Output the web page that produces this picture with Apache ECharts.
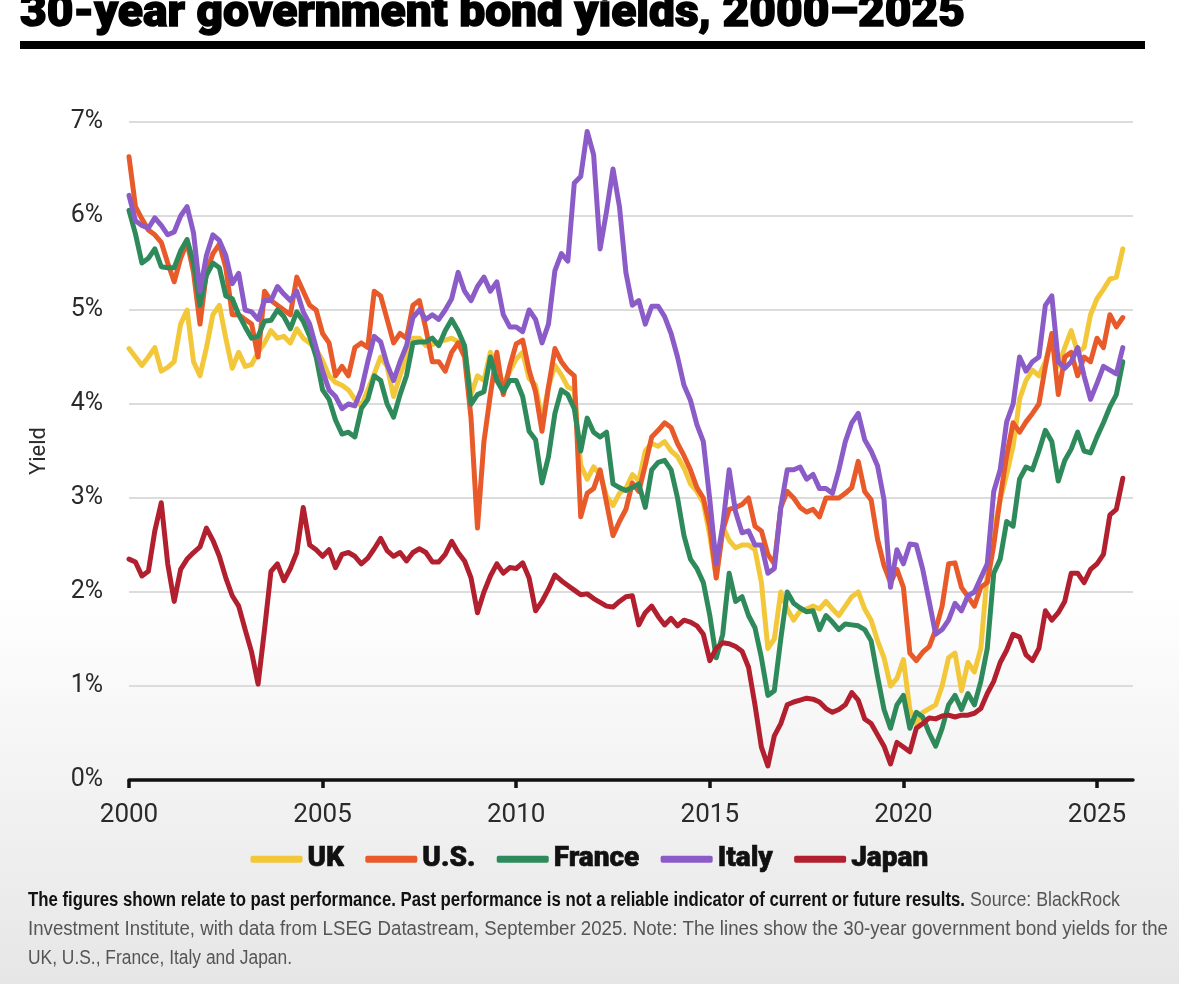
<!DOCTYPE html>
<html>
<head>
<meta charset="utf-8">
<script src="https://cdn.jsdelivr.net/npm/echarts@6/dist/echarts.min.js"></script>
<style>
html, body { margin: 0; padding: 0; }
#main { width: 1179px; height: 984px; }
</style>
</head>
<body>
<div id="main"></div>
<script>
// bi-monthly observations, Jan 2000 .. Sep 2025 (year as decimal)
const periods = [];
for (let y = 2000; y <= 2025; y++) {
  for (let m = 0; m < 12; m += 2) {
    if (y === 2025 && m > 8) break;
    periods.push(y + m / 12);
  }
}

const xTicks = [2000, 2005, 2010, 2015, 2020, 2025];
const yTicks = [0, 1, 2, 3, 4, 5, 6, 7];

// 30-year yields, %
const uk = [
  4.59, 4.5, 4.41, 4.5, 4.6, 4.35, 4.39, 4.45, 4.85, 5.0,
  4.45, 4.3, 4.6, 4.95, 5.05, 4.7, 4.38, 4.55, 4.4, 4.42,
  4.55, 4.65, 4.78, 4.7, 4.72, 4.65, 4.8, 4.7, 4.65, 4.58,
  4.46, 4.3, 4.23, 4.2, 4.15, 4.05, 3.98, 4.15, 4.32, 4.5,
  4.4, 4.08, 4.3, 4.5, 4.7, 4.7, 4.62, 4.63, 4.66, 4.68,
  4.7, 4.66, 4.6, 4.1, 4.3, 4.25, 4.55, 4.4, 4.2, 4.35,
  4.48, 4.55, 4.27, 4.2, 3.82, 4.18, 4.41, 4.31, 4.18, 4.15,
  3.35, 3.2, 3.33, 3.25, 3.02, 2.92, 3.05, 3.1, 3.25, 3.18,
  3.5, 3.58, 3.55, 3.6, 3.5, 3.44, 3.32, 3.15, 3.07, 2.95,
  2.6, 2.15, 2.7, 2.55, 2.47, 2.5, 2.5, 2.45, 2.1, 1.4,
  1.5, 2.0, 1.82, 1.7, 1.8, 1.82, 1.85, 1.82, 1.9, 1.82,
  1.75, 1.85, 1.95, 2.0, 1.82, 1.7, 1.48, 1.3, 1.0, 1.08,
  1.28, 0.75, 0.6, 0.72, 0.76, 0.8, 1.0, 1.3, 1.35, 0.95,
  1.25, 1.15, 1.4, 2.2, 2.65, 2.98, 3.25, 3.55, 4.05, 4.25,
  4.36, 4.3, 4.45, 4.7, 4.4, 4.6, 4.78, 4.55, 4.6, 4.95,
  5.12, 5.22, 5.33, 5.35, 5.65
];
const us = [
  6.63, 6.1, 5.97, 5.85, 5.8, 5.72, 5.5, 5.3, 5.55, 5.72,
  5.4, 4.85, 5.4, 5.6, 5.7, 5.45, 4.95, 4.95, 4.9, 4.85,
  4.5, 5.2, 5.1, 5.05, 5.0, 4.95, 5.35, 5.2, 5.05, 5.0,
  4.75, 4.65, 4.3, 4.4, 4.3, 4.6, 4.65, 4.6, 5.2, 5.15,
  4.9, 4.65, 4.75, 4.7, 5.05, 5.1, 4.8, 4.45, 4.45, 4.35,
  4.55, 4.65, 4.5, 3.85, 2.68, 3.6, 4.1, 4.55, 4.1, 4.4,
  4.64, 4.68, 4.36, 4.13, 3.71, 4.18, 4.59, 4.45, 4.36, 4.3,
  2.8, 3.05, 3.1, 3.3, 2.95, 2.6, 2.75, 2.88, 3.16, 3.07,
  3.35, 3.65, 3.72, 3.8, 3.75, 3.58, 3.45, 3.3, 3.11, 3.0,
  2.7, 2.15, 2.65, 2.88, 2.9, 2.93, 3.0, 2.7, 2.65, 2.4,
  2.3, 2.9, 3.07, 3.0, 2.9, 2.85, 2.88, 2.8, 3.0, 3.0,
  3.0, 3.05, 3.11, 3.39, 3.07, 2.98, 2.56, 2.28, 2.1, 2.24,
  2.05, 1.35, 1.27, 1.36, 1.42, 1.6, 1.85, 2.3, 2.31, 2.05,
  1.95, 1.85, 2.05, 2.1, 2.5, 3.0, 3.45, 3.8, 3.7, 3.81,
  3.9, 4.0, 4.4, 4.75, 4.1, 4.5, 4.55, 4.3, 4.5, 4.45,
  4.7, 4.6, 4.95, 4.82, 4.92
];
const france = [
  6.06, 5.81, 5.5, 5.55, 5.65, 5.46, 5.45, 5.45, 5.63, 5.75,
  5.5, 5.05, 5.37, 5.5, 5.45, 5.15, 5.12, 4.95, 4.82, 4.7,
  4.72, 4.88, 4.89, 5.0, 4.93, 4.8, 4.98, 4.88, 4.72, 4.5,
  4.15, 4.05, 3.83, 3.68, 3.7, 3.65, 3.95, 4.05, 4.3, 4.25,
  4.0, 3.86, 4.1, 4.3, 4.65, 4.66, 4.66, 4.7, 4.62, 4.78,
  4.9, 4.78, 4.62, 4.0, 4.1, 4.13, 4.5, 4.25, 4.13, 4.25,
  4.25, 4.08, 3.71, 3.62, 3.16, 3.44, 3.9, 4.15, 4.1, 3.95,
  3.5, 3.85, 3.7, 3.65, 3.7, 3.15, 3.11, 3.08, 3.11, 3.15,
  2.9, 3.3, 3.38, 3.4, 3.3, 3.0, 2.6, 2.35, 2.25, 2.1,
  1.75, 1.3, 1.55, 2.2, 1.9, 1.95, 1.75, 1.62, 1.3, 0.9,
  0.95, 1.5, 2.0, 1.88, 1.83, 1.79, 1.8, 1.6, 1.75, 1.68,
  1.6, 1.66, 1.65, 1.64, 1.6, 1.48, 1.1, 0.75, 0.55, 0.8,
  0.9, 0.55, 0.72, 0.67, 0.5, 0.36, 0.55, 0.8, 0.9, 0.75,
  0.92, 0.8, 1.05, 1.4, 2.2, 2.35, 2.75, 2.7, 3.2, 3.33,
  3.3, 3.5, 3.72, 3.6, 3.18, 3.4, 3.52, 3.7, 3.5, 3.48,
  3.65, 3.8, 3.97, 4.1, 4.45
];
const italy = [
  6.22, 5.95, 5.9, 5.87, 5.98, 5.9, 5.8, 5.83, 6.0, 6.1,
  5.82, 5.2, 5.58, 5.8, 5.74, 5.58, 5.28, 5.39, 5.0, 4.98,
  4.9, 5.1, 5.1, 5.25, 5.17, 5.1, 5.2, 4.98, 4.85, 4.6,
  4.35, 4.15, 4.08, 3.95, 4.0, 3.98, 4.15, 4.45, 4.72, 4.66,
  4.42, 4.25, 4.45, 4.62, 4.92, 5.0, 4.9, 4.95, 4.9, 5.0,
  5.12, 5.4, 5.2, 5.1, 5.25, 5.35, 5.2, 5.3, 4.95, 4.82,
  4.82, 4.77, 5.0, 4.9, 4.65, 4.85, 5.42, 5.6, 5.52, 6.35,
  6.42, 6.9, 6.65, 5.65, 6.05, 6.5, 6.1, 5.4, 5.05, 5.1,
  4.85, 5.04, 5.04, 4.93, 4.75, 4.5, 4.2, 4.04, 3.78, 3.6,
  2.98, 2.3, 2.7, 3.3, 2.85, 2.63, 2.65, 2.5, 2.5, 2.2,
  2.25, 2.9, 3.3, 3.3, 3.33, 3.2, 3.25, 3.1, 3.1, 3.05,
  3.3, 3.6, 3.8, 3.9, 3.62, 3.5, 3.34, 2.98, 2.05, 2.45,
  2.3, 2.51, 2.5, 2.24, 1.9, 1.55, 1.6, 1.7, 1.88, 1.8,
  1.96, 2.0, 2.15, 2.3, 3.07, 3.3, 3.81, 4.0, 4.5, 4.35,
  4.45, 4.5, 5.05, 5.15, 4.45, 4.38, 4.45, 4.6, 4.3, 4.05,
  4.22, 4.4, 4.36, 4.32, 4.6
];
const japan = [
  2.35, 2.32, 2.17, 2.22, 2.65, 2.95, 2.3, 1.9, 2.24, 2.35,
  2.42, 2.48, 2.68, 2.55, 2.38, 2.15, 1.96, 1.85, 1.6, 1.36,
  1.02, 1.6, 2.22, 2.3, 2.12, 2.25, 2.42, 2.9, 2.5, 2.45,
  2.38, 2.45, 2.26, 2.4, 2.42, 2.38, 2.3, 2.36, 2.46, 2.57,
  2.44, 2.38, 2.42, 2.33, 2.42, 2.46, 2.42, 2.32, 2.32, 2.4,
  2.54, 2.42, 2.33, 2.15, 1.78, 2.0, 2.17, 2.3, 2.2, 2.26,
  2.25, 2.31, 2.15, 1.8, 1.9, 2.03, 2.18, 2.12, 2.07, 2.02,
  1.97, 1.98, 1.93, 1.89, 1.85, 1.84, 1.9, 1.95, 1.96, 1.65,
  1.78, 1.85, 1.74, 1.65, 1.72, 1.64, 1.7, 1.68, 1.64, 1.55,
  1.27, 1.4, 1.46, 1.45, 1.42, 1.37, 1.2, 0.8, 0.35, 0.15,
  0.47, 0.6, 0.8, 0.83, 0.85, 0.87, 0.86, 0.83, 0.76, 0.72,
  0.75, 0.8, 0.93, 0.85, 0.65, 0.6, 0.48, 0.36, 0.17, 0.4,
  0.35, 0.3, 0.55, 0.6, 0.66, 0.65, 0.68, 0.69, 0.67, 0.69,
  0.69, 0.71, 0.76, 0.92, 1.05, 1.25, 1.38, 1.55, 1.52, 1.33,
  1.27, 1.4, 1.8, 1.7, 1.78, 1.9, 2.2, 2.2, 2.1, 2.24,
  2.3, 2.4, 2.82, 2.88, 3.21
];

const names = ['UK', 'U.S.', 'France', 'Italy', 'Japan'];
const colors = ['#f2c83a', '#e85a2a', '#2f8a5b', '#8b5cc8', '#b2202f'];
const values = [uk, us, france, italy, japan];

const titleText = '30-year government bond yields, 2000\u20132025';
const noteBold = 'The figures shown relate to past performance. Past performance is not a reliable indicator of current or future results.';
const noteSource = 'Source: BlackRock';
const noteLine2 = 'Investment Institute, with data from LSEG Datastream, September 2025. Note: The lines show the 30-year government bond yields for the';
const noteLine3 = 'UK, U.S., France, Italy and Japan.';

// squeeze/stretch text horizontally to the width it has in the original
const ctx = document.createElement('canvas').getContext('2d');
function fitScale(text, font, width) {
  ctx.font = font;
  return width / ctx.measureText(text).width;
}

const bodyFont = 'Roboto, "Liberation Sans", sans-serif';
const titleFont = '900 44px Roboto, "Liberation Sans", sans-serif';
const noteFont = '20px "Liberation Sans", Arial, sans-serif';
const noteBoldFont = 'bold 20px "Liberation Sans", Arial, sans-serif';

function note(text, font, x, y, width, fill) {
  return {
    type: 'text', x: x, y: y,
    scaleX: fitScale(text, font, width),
    style: { text: text, font: font, fill: fill, verticalAlign: 'middle' }
  };
}

const chart = echarts.init(document.getElementById('main'));

chart.setOption({
  backgroundColor: {
    type: 'linear', x: 0, y: 0, x2: 0, y2: 1,
    colorStops: [
      { offset: 0, color: '#ffffff' },
      { offset: 0.6, color: '#ffffff' },
      { offset: 1, color: '#e6e6e6' }
    ]
  },
  animation: false,
  grid: { left: 129, right: 46, top: 122, bottom: 204 },
  legend: {
    data: names,
    left: 'center',
    top: 840,
    icon: 'roundRect',
    itemWidth: 52,
    itemHeight: 7,
    itemGap: 21,
    textStyle: {
      fontFamily: bodyFont, fontWeight: 900, fontSize: 28, color: '#111',
      textBorderColor: '#111', textBorderWidth: 0.6
    }
  },
  xAxis: {
    type: 'value',
    min: 2000,
    max: 2025.93,
    interval: 5,
    splitLine: { show: false },
    axisLine: { lineStyle: { color: '#111', width: 3.5 } },
    axisTick: { show: true, length: 8, lineStyle: { color: '#111', width: 3.5 } },
    axisLabel: {
      showMaxLabel: false,
      margin: 22,
      fontFamily: bodyFont,
      fontSize: 26,
      color: '#2a2a2a',
      formatter: v => (xTicks.includes(v) ? String(v) : '')
    }
  },
  yAxis: {
    type: 'value',
    min: 0,
    max: 7,
    interval: 1,
    name: 'Yield',
    nameLocation: 'middle',
    nameGap: 79,
    nameRotate: 90,
    nameTextStyle: { fontFamily: bodyFont, fontSize: 22, color: '#2a2a2a' },
    axisLine: { show: false },
    axisTick: { show: false },
    splitLine: { lineStyle: { color: '#dcdcdc', width: 2 } },
    axisLabel: {
      margin: 26,
      fontFamily: bodyFont,
      fontSize: 25,
      color: '#2a2a2a',
      formatter: v => (yTicks.includes(v) ? v + '%' : '')
    }
  },
  series: names.map((n, k) => ({
    name: n,
    type: 'line',
    showSymbol: false,
    color: colors[k],
    lineStyle: { width: 5, join: 'round', cap: 'round' },
    data: periods.map((t, i) => [t, values[k][i]])
  })),
  graphic: [
    {
      type: 'text', x: 20, y: 15,
      scaleX: fitScale(titleText, titleFont, 945),
      style: {
        text: titleText, font: titleFont, fill: '#000',
        stroke: '#000', lineWidth: 1.4, verticalAlign: 'middle'
      }
    },
    { type: 'rect', shape: { x: 20, y: 41, width: 1125, height: 8 }, style: { fill: '#000' } },
    note(noteBold, noteBoldFont, 28, 900, 937, '#111'),
    note(noteSource, noteFont, 970, 900, 150, '#555'),
    note(noteLine2, noteFont, 28, 929, 1140, '#555'),
    note(noteLine3, noteFont, 28, 958, 264, '#555')
  ]
});
</script>
</body>
</html>
